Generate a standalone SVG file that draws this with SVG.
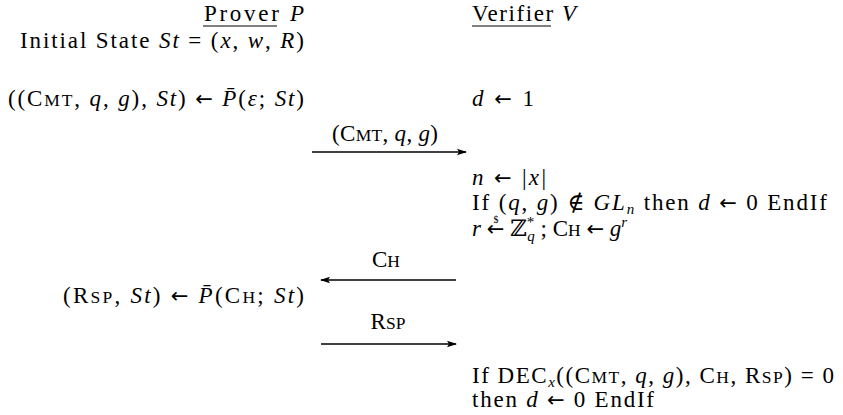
<svg xmlns="http://www.w3.org/2000/svg" width="843" height="415" viewBox="0 0 843 415">
<style>
text{font-family:"Liberation Serif","DejaVu Serif",serif;font-size:23px;fill:#000}
.i{font-style:italic}
.sc{font-size:17.5px}
.sub{font-size:15px}
.ar{font-family:"DejaVu Sans",sans-serif;font-size:21px}
.c{text-anchor:middle}
.e{text-anchor:end}
.ln{stroke:#000;stroke-width:1.6;fill:none}
.ul{stroke:#000;stroke-width:1.1}
</style>
<defs>
<marker id="ah" markerWidth="10" markerHeight="8" refX="9" refY="4" orient="auto" markerUnits="userSpaceOnUse">
<path d="M0,0.8 L10,4 L0,7.2 L2,4 Z" fill="#000"/>
</marker>
</defs>
<rect width="843" height="415" fill="#fff"/>
<g id="prover">
<text class="e" x="304" y="21" textLength="100" lengthAdjust="spacing">Prover <tspan class="i">P</tspan></text>
<line class="ul" x1="203" y1="26" x2="277" y2="26"/>
<text class="e" x="304" y="48" textLength="284" lengthAdjust="spacing">Initial State <tspan class="i">St</tspan> = (<tspan class="i">x</tspan>, <tspan class="i">w</tspan>, <tspan class="i">R</tspan>)</text>
<text class="e" x="304" y="106" textLength="296" lengthAdjust="spacing">((C<tspan class="sc">MT</tspan>, <tspan class="i">q</tspan>, <tspan class="i">g</tspan>), <tspan class="i">St</tspan>) <tspan class="ar">←</tspan> <tspan class="i">P̄</tspan>(<tspan class="i">ε</tspan>; <tspan class="i">St</tspan>)</text>
<text class="e" x="304" y="303" textLength="241" lengthAdjust="spacing">(R<tspan class="sc">SP</tspan>, <tspan class="i">St</tspan>) <tspan class="ar">←</tspan> <tspan class="i">P̄</tspan>(C<tspan class="sc">H</tspan>; <tspan class="i">St</tspan>)</text>
</g>
<g id="verifier">
<text x="472" y="21" textLength="104" lengthAdjust="spacing">Verifier <tspan class="i">V</tspan></text>
<line class="ul" x1="472" y1="26" x2="551" y2="26"/>
<text x="472" y="106" textLength="62" lengthAdjust="spacing"><tspan class="i">d</tspan> <tspan class="ar">←</tspan> 1</text>
<text x="472" y="185" textLength="74" lengthAdjust="spacing"><tspan class="i">n</tspan> <tspan class="ar">←</tspan> |<tspan class="i">x</tspan>|</text>
<text x="472" y="210" textLength="355" lengthAdjust="spacing">If (<tspan class="i">q</tspan>, <tspan class="i">g</tspan>) ∉ <tspan class="i">GL</tspan><tspan class="sub i" dy="4">n</tspan><tspan dy="-4"> then </tspan><tspan class="i">d</tspan> <tspan class="ar">←</tspan> 0 EndIf</text>
<text x="472" y="236"><tspan class="i">r</tspan> <tspan class="ar">←</tspan> ℤ<tspan class="sub" dy="-9">*</tspan><tspan class="sub i" dx="-7" dy="14">q</tspan><tspan dy="-5"> ; C</tspan><tspan class="sc">H</tspan> <tspan class="ar">←</tspan> <tspan class="i">g</tspan><tspan class="sub i" dy="-9">r</tspan></text>
<text class="c" x="496" y="223" style="font-size:10px">$</text>
<text x="472" y="383" textLength="362" lengthAdjust="spacing">If DEC<tspan class="sub i" dy="4">x</tspan><tspan dy="-4">((C</tspan><tspan class="sc">MT</tspan>, <tspan class="i">q</tspan>, <tspan class="i">g</tspan>), C<tspan class="sc">H</tspan>, R<tspan class="sc">SP</tspan>) = 0</text>
<text x="472" y="407" textLength="182" lengthAdjust="spacing">then <tspan class="i">d</tspan> <tspan class="ar">←</tspan> 0 EndIf</text>
</g>
<g id="connectors">
<line class="ln" x1="312" y1="152" x2="466" y2="152" marker-end="url(#ah)"/>
<text class="c" x="385" y="141" textLength="106" lengthAdjust="spacing">(C<tspan class="sc">MT</tspan>, <tspan class="i">q</tspan>, <tspan class="i">g</tspan>)</text>
<line class="ln" x1="456" y1="280" x2="321" y2="280" marker-end="url(#ah)"/>
<text class="c" x="386" y="267">C<tspan class="sc">H</tspan></text>
<line class="ln" x1="321" y1="344" x2="456" y2="344" marker-end="url(#ah)"/>
<text class="c" x="388" y="329">R<tspan class="sc">SP</tspan></text>
</g>
</svg>
